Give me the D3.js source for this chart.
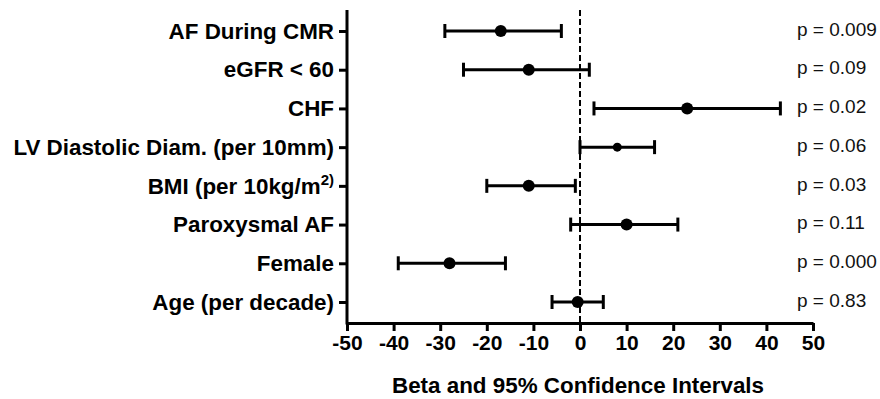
<!DOCTYPE html>
<html>
<head>
<meta charset="utf-8">
<script src="https://cdn.jsdelivr.net/npm/d3@7"></script>
<style>
  body { margin: 0; background: #fff; }
  svg { display: block; font-family: "Liberation Sans", Arial, sans-serif; }
</style>
</head>
<body>
<svg id="chart" width="880" height="399"></svg>
<script>
// Row labels, top to bottom
const categories = [
    "AF During CMR",
    "eGFR < 60",
    "CHF",
    "LV Diastolic Diam. (per 10mm)",
    "BMI (per 10kg/m2)",
    "Paroxysmal AF",
    "Female",
    "Age (per decade)"
];

// Beta estimates and 95% CI bounds
const beta  = [-17, -11, 23, 8, -11, 10, -28, -0.5];
const lower = [-29, -25, 3, 0, -20, -2, -39, -6];
const upper = [-4, 2, 43, 16, -1, 21, -16, 5];

// p-values shown on the right
const pValues = ["0.009", "0.09", "0.02", "0.06", "0.03", "0.11", "0.000", "0.83"];

// x axis ticks
const xTicks = [-50, -40, -30, -20, -10, 0, 10, 20, 30, 40, 50];

const svg = d3.select("#chart");

const x = d3.scaleLinear().domain([-50, 50]).range([347, 813]);
const y = d3.scalePoint().domain(categories).range([31, 302]);
const yTop = 10, yBottom = 323;

// Zero reference line
svg.append("line")
    .attr("x1", x(0)).attr("x2", x(0))
    .attr("y1", yTop).attr("y2", yBottom)
    .attr("stroke", "#000")
    .attr("stroke-width", 2)
    .attr("stroke-dasharray", "6,3");

// Y axis (ticks + labels), domain line drawn by hand so it reaches the top
const yAxis = svg.append("g")
    .attr("transform", `translate(${x(-50)},0)`)
    .call(d3.axisLeft(y).tickSize(8).tickPadding(5).tickSizeOuter(0));
yAxis.select(".domain").remove();
yAxis.selectAll(".tick line").attr("stroke-width", 3);
yAxis.selectAll(".tick text")
    .attr("font-size", 22.4)
    .attr("font-weight", "bold")
    .attr("font-family", "Liberation Sans, Arial, sans-serif")
    .attr("fill", "#000")
    .each(function(d) {
        if (d === "BMI (per 10kg/m2)") {
            const t = d3.select(this).text("");
            t.append("tspan").text("BMI (per 10kg/m");
            t.append("tspan").attr("font-size", 15).attr("dy", "-0.6em").text("2)");
        }
    });
svg.append("line")
    .attr("x1", x(-50)).attr("x2", x(-50))
    .attr("y1", yTop).attr("y2", yBottom + 1.5)
    .attr("stroke", "#000")
    .attr("stroke-width", 3);

// X axis
const xAxis = svg.append("g")
    .attr("transform", `translate(0,${yBottom})`)
    .call(d3.axisBottom(x).tickValues(xTicks).tickFormat(d => String(d))
        .tickSize(8).tickPadding(4).tickSizeOuter(0));
xAxis.select(".domain").attr("stroke-width", 3);
xAxis.selectAll(".tick line").attr("stroke-width", 3);
xAxis.selectAll(".tick text")
    .attr("font-size", 21)
    .attr("font-weight", "bold")
    .attr("font-family", "Liberation Sans, Arial, sans-serif")
    .attr("fill", "#000");

// Axis title
svg.append("text")
    .attr("x", 578)
    .attr("y", 393)
    .attr("text-anchor", "middle")
    .attr("font-size", 22.4)
    .attr("font-weight", "bold")
    .text("Beta and 95% Confidence Intervals");

// Error bars
const rows = categories.map((c, i) => ({ c, b: beta[i], lo: lower[i], hi: upper[i], p: pValues[i] }));

const g = svg.append("g");
g.selectAll("line.ci")
    .data(rows).join("line")
    .attr("class", "ci")
    .attr("x1", d => x(d.lo)).attr("x2", d => x(d.hi))
    .attr("y1", d => y(d.c)).attr("y2", d => y(d.c))
    .attr("stroke", "#000").attr("stroke-width", 3);

["lo", "hi"].forEach(k => {
    g.selectAll("line.cap-" + k)
        .data(rows).join("line")
        .attr("class", "cap-" + k)
        .attr("x1", d => x(d[k])).attr("x2", d => x(d[k]))
        .attr("y1", d => y(d.c) - 7).attr("y2", d => y(d.c) + 7)
        .attr("stroke", "#000").attr("stroke-width", 3);
});

g.selectAll("circle")
    .data(rows).join("circle")
    .attr("cx", d => x(d.b))
    .attr("cy", d => y(d.c))
    .attr("r", d => d.c.startsWith("LV") ? 4.5 : 6)
    .attr("fill", "#000");

// p-values
svg.selectAll("text.pval")
    .data(rows).join("text")
    .attr("class", "pval")
    .attr("x", 797)
    .attr("y", d => y(d.c) - 2)
    .attr("dy", "0.35em")
    .attr("font-size", 19)
    .attr("fill", "#111")
    .text(d => "p = " + d.p);
</script>
</body>
</html>
